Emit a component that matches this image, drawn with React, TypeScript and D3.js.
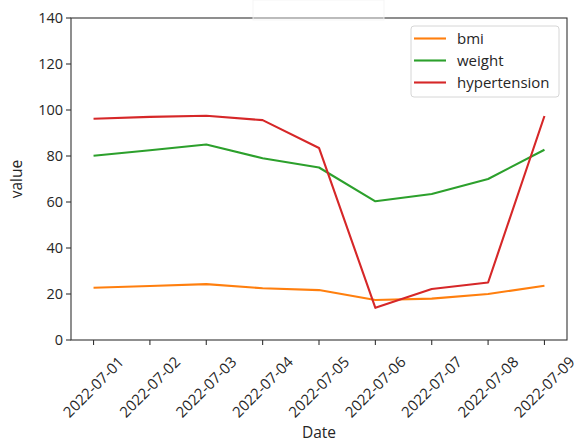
import React from "react";
import * as d3 from "d3";

const dates = ["2022-07-01","2022-07-02","2022-07-03","2022-07-04","2022-07-05","2022-07-06","2022-07-07","2022-07-08","2022-07-09"];
const bmi = [22.7, 23.5, 24.3, 22.5, 21.7, 17.4, 18.0, 20.0, 23.6];
const weight = [80.1, 82.5, 85.0, 79.0, 75.0, 60.3, 63.5, 70.0, 82.7];
const hypertension = [96.2, 97.0, 97.5, 95.6, 83.5, 14.0, 22.2, 25.0, 97.4];
const yTicks = [0, 20, 40, 60, 80, 100, 120, 140];
const seriesNames = ["bmi", "weight", "hypertension"];
const seriesColors = ["#ff7f0e", "#2ca02c", "#d62728"];

const W = 579, H = 442;
const L = 71, R = 567, T = 18, B = 340;
const FONT = "'Open Sans', sans-serif";

export default function App() {
  const x = d3.scalePoint<string>().domain(dates).range([L, R]).padding(0.4);
  const y = d3.scaleLinear().domain([0, 140]).range([B, T]);
  const series = [bmi, weight, hypertension];
  const line = d3.line<number>().x((_, i) => x(dates[i]) as number).y((d) => y(d));
  const textColor = "#262626";
  const axisColor = "#333";
  return (
    <svg width={W} height={H} style={{ position: "absolute", left: 0, top: 0, background: "#fff" }} fontFamily={FONT}>
      <rect x={0} y={0} width={W} height={H} fill="#fff" />
      {series.map((s, i) => (
        <path key={i} d={line(s) || ""} fill="none" stroke={seriesColors[i]} strokeWidth={2.1} strokeLinejoin="round" />
      ))}
      <rect x={L} y={T} width={R - L} height={B - T} fill="none" stroke={axisColor} strokeWidth={1.1} />
      <rect x={253} y={0} width={131} height={20} fill="#fff" fillOpacity={0.4} stroke="#f2f2f2" strokeWidth={0.8} />
      {yTicks.map((t) => (
        <g key={t}>
          <line x1={L - 5} x2={L} y1={y(t)} y2={y(t)} stroke={axisColor} strokeWidth={1.1} />
          <text x={L - 8} y={y(t)} dy="0.35em" textAnchor="end" fontSize={14.5} fill={textColor}>{t}</text>
        </g>
      ))}
      {dates.map((d) => {
        const cx = x(d) as number;
        return (
          <g key={d}>
            <line x1={cx} x2={cx} y1={B} y2={B + 5} stroke={axisColor} strokeWidth={1.1} />
            <text transform={`translate(${cx},${387}) rotate(-45)`} textAnchor="middle" dy="0.35em" fontSize={15} fill={textColor}>{d}</text>
          </g>
        );
      })}
      <text x={319} y={433} dy="0.35em" textAnchor="middle" fontSize={15.5} fill={textColor}>Date</text>
      <text transform={`translate(${17},${(T + B) / 2}) rotate(-90)`} textAnchor="middle" dy="0.35em" fontSize={15.5} fill={textColor}>value</text>
      <g>
        <rect x={411} y={26} width={148} height={71} rx={3} fill="#fff" fillOpacity={0.8} stroke="#d6d6d6" strokeWidth={1} />
        {seriesNames.map((n, i) => {
          const ly = 38.5 + i * 22;
          return (
            <g key={n}>
              <line x1={414} x2={446} y1={ly} y2={ly} stroke={seriesColors[i]} strokeWidth={2.1} />
              <text x={457} y={ly} dy="0.35em" fontSize={15} fill={textColor}>{n}</text>
            </g>
          );
        })}
      </g>
    </svg>
  );
}
